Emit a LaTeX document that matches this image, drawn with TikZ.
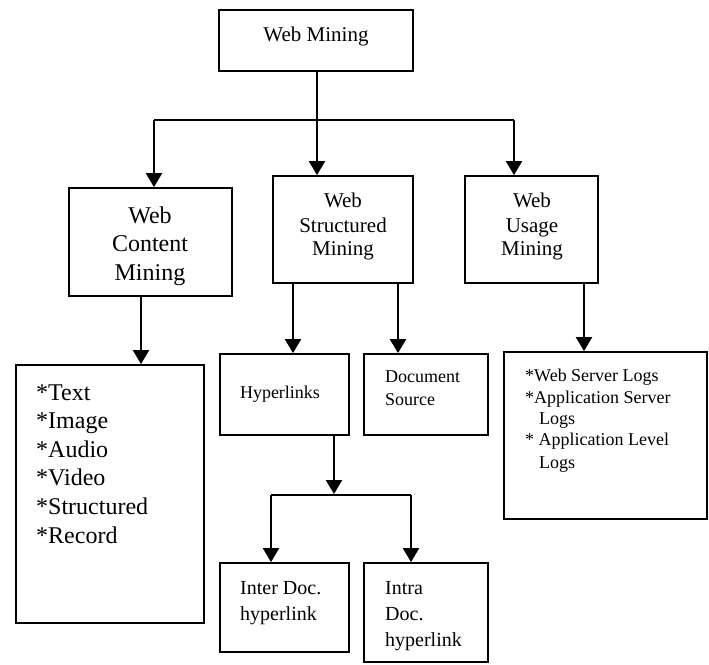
\documentclass[tikz,border=0pt]{standalone}
\usepackage{fontspec}
\setmainfont{Liberation Serif}
\usetikzlibrary{arrows.meta}
\begin{document}
\begin{tikzpicture}[x=1pt,y=-1pt,
  box/.style={draw,line width=1.8pt,inner sep=0pt},
  conn/.style={line width=2.2pt},
  arr/.style={conn,-{Triangle[length=14pt,width=16pt]}},
  txt/.style={inner sep=0pt,anchor=base},
  txtl/.style={inner sep=0pt,anchor=base west},
  big/.style={font=\fontsize{24pt}{28pt}\selectfont},
  mid/.style={font=\fontsize{21pt}{24pt}\selectfont},
  med/.style={font=\fontsize{20pt}{24pt}\selectfont},
  sml/.style={font=\fontsize{18pt}{21pt}\selectfont}]
\useasboundingbox (0,0) rectangle (709,664);
% boxes
\node[box,minimum width=194pt,minimum height=61pt] (wm) at (316,40.5) {};
\node[box,minimum width=163pt,minimum height=108pt] (wcm) at (150.5,242) {};
\node[box,minimum width=140pt,minimum height=107pt] (wsm) at (343,229.5) {};
\node[box,minimum width=133pt,minimum height=107pt] (wum) at (531.5,229.5) {};
\node[box,minimum width=188pt,minimum height=258pt] (list) at (110,494) {};
\node[box,minimum width=129pt,minimum height=81pt] (hyp) at (284.5,394.5) {};
\node[box,minimum width=124pt,minimum height=81pt] (doc) at (426,394.5) {};
\node[box,minimum width=203pt,minimum height=167pt] (logs) at (605.5,435.5) {};
\node[box,minimum width=129pt,minimum height=89pt] (inter) at (284.5,607.5) {};
\node[box,minimum width=124pt,minimum height=99pt] (intra) at (426,612.5) {};
% texts
\node[txt,mid] (t-wm) at (316,41) {Web Mining};
\node[txt,big] (t-wcm1) at (150,223) {Web};
\node[txt,big] (t-wcm2) at (150,251) {Content};
\node[txt,big] (t-wcm3) at (150,280) {Mining};
\node[txt,mid] (t-wsm1) at (343,207) {Web};
\node[txt,mid] (t-wsm2) at (343,232) {Structured};
\node[txt,mid] (t-wsm3) at (343,255) {Mining};
\node[txt,mid] (t-wum1) at (532,207) {Web};
\node[txt,mid] (t-wum2) at (532,232) {Usage};
\node[txt,mid] (t-wum3) at (532,255) {Mining};
\node[txtl,big] (t-l1) at (36,400) {*Text};
\node[txtl,big] (t-l2) at (36,428.6) {*Image};
\node[txtl,big] (t-l3) at (36,457.2) {*Audio};
\node[txtl,big] (t-l4) at (36,485.8) {*Video};
\node[txtl,big] (t-l5) at (36,514.4) {*Structured};
\node[txtl,big] (t-l6) at (36,543) {*Record};
\node[txt,sml] (t-hyp) at (280,398) {Hyperlinks};
\node[txtl,sml] (t-doc1) at (385,382) {Document};
\node[txtl,sml] (t-doc2) at (385,405) {Source};
\node[txtl,sml] (t-g1) at (525,381) {*Web Server Logs};
\node[txtl,sml] (t-g2) at (525,403) {*Application Server};
\node[txtl,sml] (t-g3) at (539,424) {Logs};
\node[txtl,sml] (t-g4) at (525,445) {* Application Level};
\node[txtl,sml] (t-g5) at (539,468) {Logs};
\node[txtl,med] (t-in1) at (240,594) {Inter Doc.};
\node[txtl,med] (t-in2) at (240,620) {hyperlink};
\node[txtl,med] (t-ia1) at (385,594) {Intra};
\node[txtl,med] (t-ia2) at (385,620) {Doc.};
\node[txtl,med] (t-ia3) at (385,646) {hyperlink};
% connectors
\coordinate (j1) at (317,120);
\coordinate (jl) at (154,120);
\coordinate (jr) at (514,120);
\draw[conn] (wm.south -| j1) -- (j1);
\draw[conn] (jl) -- (jr);
\draw[arr] (jl) -- (jl |- wcm.north);
\draw[arr] (j1) -- (j1 |- wsm.north);
\draw[arr] (jr) -- (jr |- wum.north);
\coordinate (c1) at (141,0);
\draw[arr] (wcm.south -| c1) -- (list.north -| c1);
\coordinate (s1) at (293,0);
\coordinate (s2) at (398,0);
\draw[arr] (wsm.south -| s1) -- (hyp.north -| s1);
\draw[arr] (wsm.south -| s2) -- (doc.north -| s2);
\coordinate (u1) at (584,0);
\draw[arr] (wum.south -| u1) -- (logs.north -| u1);
\coordinate (h1) at (334,494);
\coordinate (hl) at (271,495);
\coordinate (hr) at (411,495);
\draw[arr] (hyp.south -| h1) -- (h1);
\draw[conn] (hl) -- (hr);
\draw[arr] (hl) -- (hl |- inter.north);
\draw[arr] (hr) -- (hr |- intra.north);
\end{tikzpicture}
\end{document}
